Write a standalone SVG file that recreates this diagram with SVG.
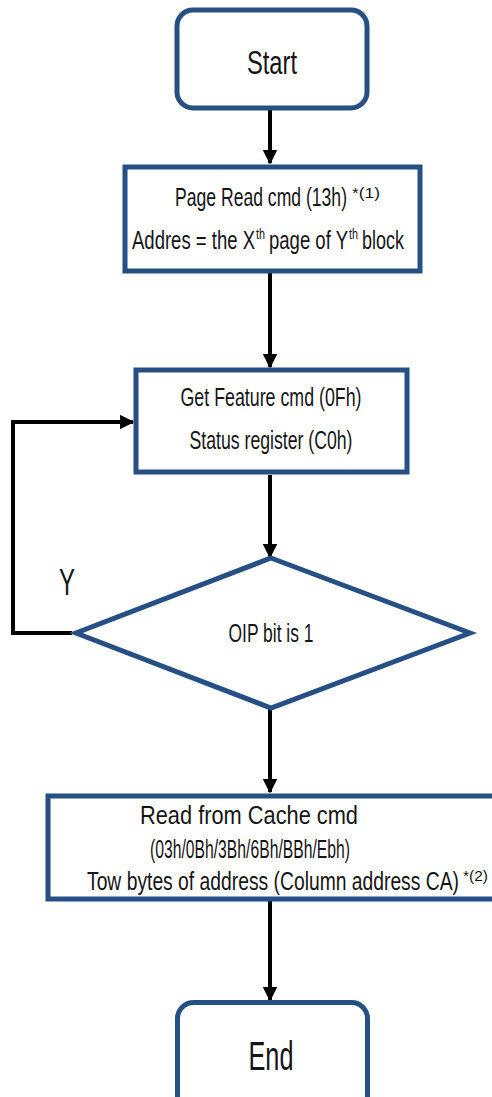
<svg xmlns="http://www.w3.org/2000/svg" width="492" height="1097" viewBox="0 0 492 1097">
  <style>
    .box { fill: #ffffff; stroke: #264f84; stroke-width: 5; }
    .t { font-family: "Liberation Sans", Arial, sans-serif; fill: #151515; text-anchor: middle; }
    .s { font-family: "Liberation Sans", Arial, sans-serif; fill: #151515; text-anchor: start; }
    .mid { font-size: 25px; }
    .sup { font-size: 14px; }
    .wire { fill: none; stroke: #000000; stroke-width: 4; }
  </style>
  <defs>
    <marker id="arrow" viewBox="0 0 10 10" refX="9" refY="5" markerWidth="3.6" markerHeight="3.6" orient="auto" markerUnits="strokeWidth">
      <path d="M0,0 L10,5 L0,10 Z" fill="#000000"/>
    </marker>
  </defs>

  <rect width="492" height="1097" fill="#ffffff"/>

  <!-- connectors -->
  <g id="connectors">
    <line class="wire" x1="270" y1="110" x2="270" y2="163" marker-end="url(#arrow)"/>
    <line class="wire" x1="270" y1="273" x2="270" y2="367" marker-end="url(#arrow)"/>
    <line class="wire" x1="270" y1="475" x2="270" y2="557" marker-end="url(#arrow)"/>
    <line class="wire" x1="270" y1="708" x2="270" y2="792" marker-end="url(#arrow)"/>
    <line class="wire" x1="270" y1="901" x2="270" y2="1000" marker-end="url(#arrow)"/>
    <path class="wire" d="M72,633 H13 V422 H133" stroke-width="5" marker-end="url(#arrow)"/>
    <text class="t" x="67" y="595" font-size="36" textLength="16" lengthAdjust="spacingAndGlyphs">Y</text>
  </g>

  <!-- start terminal -->
  <g id="start">
    <rect class="box" x="177" y="10" width="190" height="98" rx="16"/>
    <text class="t" x="272" y="74" font-size="34" textLength="50" lengthAdjust="spacingAndGlyphs">Start</text>
  </g>

  <!-- page read command -->
  <g id="page-read">
    <rect class="box" x="125" y="167" width="295" height="104"/>
    <text class="s mid" x="175" y="206" textLength="172" lengthAdjust="spacingAndGlyphs">Page Read cmd (13h)</text>
    <text class="s sup" x="352" y="198" textLength="28" lengthAdjust="spacingAndGlyphs">*(1)</text>
    <text class="s mid" x="132" y="249" textLength="123" lengthAdjust="spacingAndGlyphs">Addres = the X</text>
    <text class="s sup" x="256" y="239" textLength="9" lengthAdjust="spacingAndGlyphs">th</text>
    <text class="s mid" x="269" y="249" textLength="79" lengthAdjust="spacingAndGlyphs">page of Y</text>
    <text class="s sup" x="349" y="239" textLength="9" lengthAdjust="spacingAndGlyphs">th</text>
    <text class="s mid" x="362" y="249" textLength="42" lengthAdjust="spacingAndGlyphs">block</text>
  </g>

  <!-- get feature command -->
  <g id="get-feature">
    <rect class="box" x="136" y="370" width="271" height="102"/>
    <text class="t mid" x="271" y="406" textLength="181" lengthAdjust="spacingAndGlyphs">Get Feature cmd (0Fh)</text>
    <text class="t mid" x="271" y="449" textLength="163" lengthAdjust="spacingAndGlyphs">Status register (C0h)</text>
  </g>

  <!-- OIP decision -->
  <g id="oip-check">
    <polygon class="box" points="271,558 470,633 271,708 76,633"/>
    <text class="t mid" x="271" y="642" textLength="85" lengthAdjust="spacingAndGlyphs">OIP bit is 1</text>
  </g>

  <!-- read from cache command -->
  <g id="read-cache">
    <rect class="box" x="48" y="796" width="450" height="103"/>
    <text class="t mid" x="249" y="824" textLength="218" lengthAdjust="spacingAndGlyphs">Read from Cache cmd</text>
    <text class="t mid" x="250" y="858" textLength="200" lengthAdjust="spacingAndGlyphs">(03h/0Bh/3Bh/6Bh/BBh/Ebh)</text>
    <text class="s mid" x="87" y="890" textLength="372" lengthAdjust="spacingAndGlyphs">Tow bytes of address (Column address CA)</text>
    <text class="s sup" x="463" y="881" textLength="25" lengthAdjust="spacingAndGlyphs">*(2)</text>
  </g>

  <!-- end terminal -->
  <g id="end">
    <rect class="box" x="177.5" y="1002.5" width="190" height="110" rx="16"/>
    <text class="t" x="271" y="1070" font-size="40" textLength="45" lengthAdjust="spacingAndGlyphs">End</text>
  </g>
</svg>
